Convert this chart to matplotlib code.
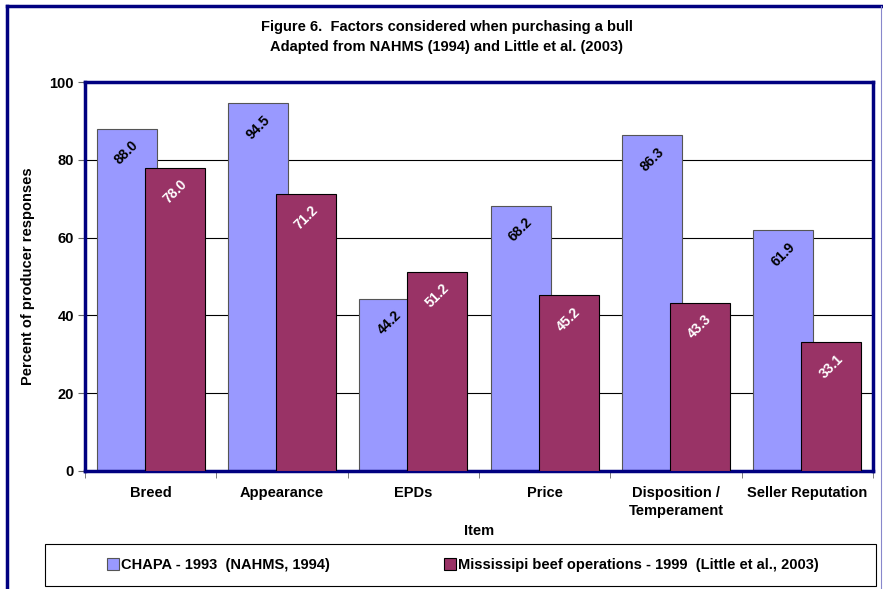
import numpy as np
import matplotlib.pyplot as plt
from matplotlib.lines import Line2D
from matplotlib.patches import Rectangle

plt.rcParams['font.family'] = ['Liberation Sans', 'DejaVu Sans']
plt.rcParams['font.weight'] = 'bold'

items = ['Breed', 'Appearance', 'EPDs', 'Price', 'Disposition /\nTemperament', 'Seller Reputation']
chapa = [88.0, 94.5, 44.2, 68.2, 86.3, 61.9]
miss = [78.0, 71.2, 51.2, 45.2, 43.3, 33.1]
series_names = ['CHAPA - 1993  (NAHMS, 1994)',
                'Mississipi beef operations - 1999  (Little et al., 2003)']

blue = '#9999FF'
maroon = '#993366'
navy = '#000080'

fig = plt.figure(figsize=(8.83, 5.89), dpi=100)
W, H = 883, 589
ax = fig.add_axes([85 / W, 1 - 471 / H, (873 - 85) / W, (471 - 82) / H])

x = np.arange(len(items))
bw = 0.456
off = 0.183
b1 = ax.bar(x - off, chapa, bw, color=blue, edgecolor='#555555', linewidth=0.8, zorder=2)
b2 = ax.bar(x + off, miss, bw, color=maroon, edgecolor='black', linewidth=0.8, zorder=3)

for rect, v in zip(b1, chapa):
    ax.annotate(f'{v:.1f}', (rect.get_x() + rect.get_width() / 2, v), xytext=(0, -24),
                textcoords='offset pixels', ha='center', va='center', rotation=45,
                fontsize=10, fontweight='bold', color='black', zorder=4)
for rect, v in zip(b2, miss):
    ax.annotate(f'{v:.1f}', (rect.get_x() + rect.get_width() / 2, v), xytext=(0, -24),
                textcoords='offset pixels', ha='center', va='center', rotation=45,
                fontsize=10, fontweight='bold', color='white', zorder=4)

ax.set_xlim(-0.5, len(items) - 0.5)
ax.set_ylim(0, 100)
ax.set_yticks(np.arange(0, 101, 20))
ax.yaxis.grid(True, color='black', linewidth=0.8)
ax.set_axisbelow(True)
ax.tick_params(axis='y', length=5, color='#666666', labelsize=10.5, pad=3)
ax.set_xticks(x)
ax.set_xticklabels(items, fontsize=10.5, fontweight='bold', linespacing=1.35)
ax.set_xticks(np.arange(-0.5, len(items)), minor=True)
ax.tick_params(axis='x', which='major', length=0, pad=11)
ax.tick_params(axis='x', which='minor', length=5, color='#666666')
for s in ax.spines.values():
    s.set_color(navy)
    s.set_linewidth(2.5)

ax.set_xlabel('Item', fontsize=10.5, fontweight='bold', labelpad=4)
ax.set_ylabel('Percent of producer responses', fontsize=10.5, fontweight='bold', labelpad=10)

fig.text(447 / W, 1 - 27 / H, 'Figure 6.  Factors considered when purchasing a bull',
         ha='center', va='center', fontsize=10.5, fontweight='bold')
fig.text(447 / W, 1 - 47 / H, 'Adapted from NAHMS (1994) and Little et al. (2003)',
         ha='center', va='center', fontsize=10.5, fontweight='bold')

# legend box and entries
fig.add_artist(Rectangle((45 / W, 1 - 586 / H), (876 - 45) / W, 42 / H, transform=fig.transFigure,
                         facecolor='white', edgecolor='black', linewidth=0.8))
leg = fig.legend([b1, b2], series_names, loc='center', ncol=2,
                 bbox_to_anchor=(463 / W, 1 - 565 / H), fontsize=10.5, frameon=False,
                 handlelength=0.8, handleheight=0.8, handletextpad=0.15,
                 columnspacing=7.8, borderpad=0, borderaxespad=0)

# figure frame
fig.add_artist(Line2D([7 / W, 7 / W], [0, 1 - 6 / H], color=navy, lw=2.5, transform=fig.transFigure))
fig.add_artist(Line2D([7 / W, 881 / W], [1 - 6 / H, 1 - 6 / H], color=navy, lw=2.5, transform=fig.transFigure))
fig.add_artist(Line2D([881 / W, 881 / W], [0, 1 - 6 / H], color='#8888cc', lw=0.8, transform=fig.transFigure))

fig.savefig('out.png', dpi=100)
